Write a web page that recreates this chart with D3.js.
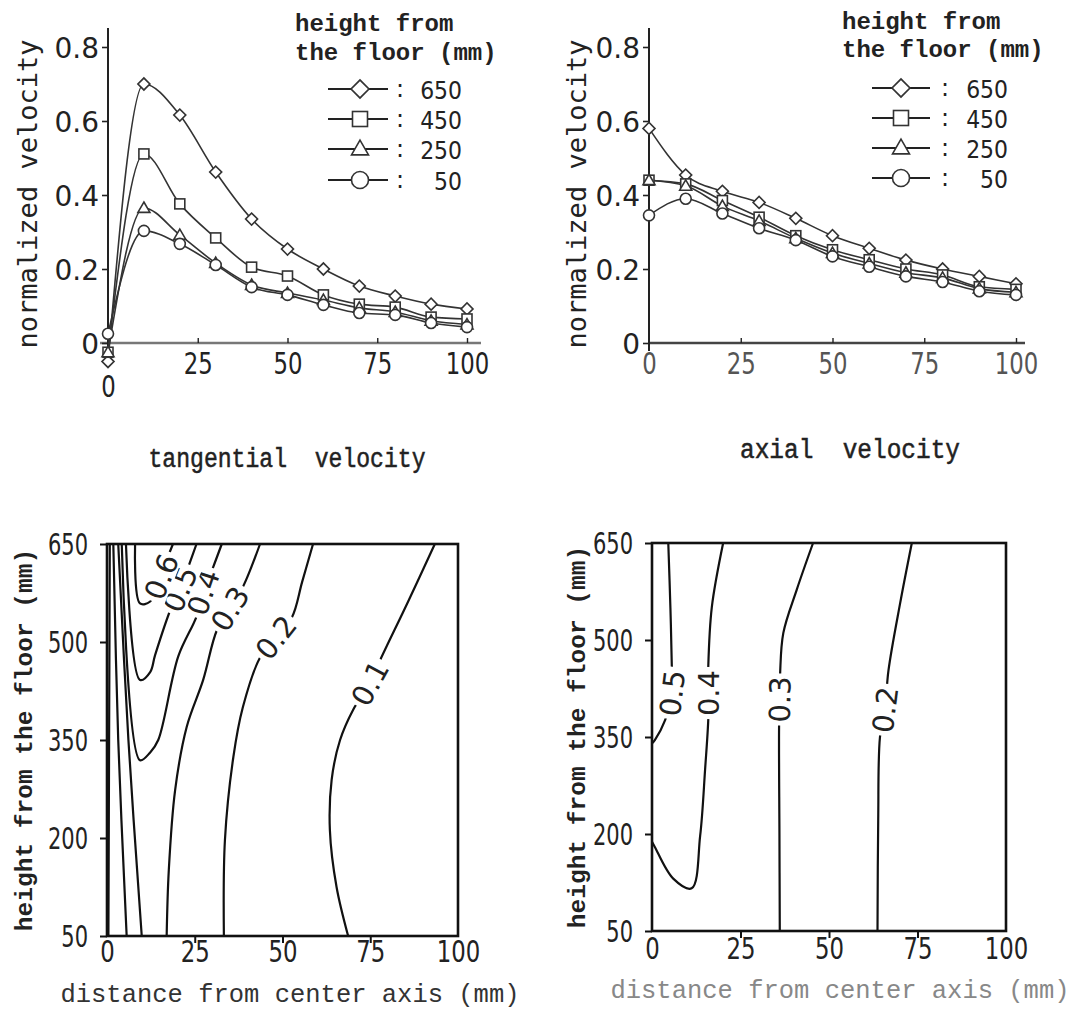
<!DOCTYPE html>
<html><head><meta charset="utf-8">
<script src="https://cdn.jsdelivr.net/npm/d3@7"></script>
<style>
body{margin:0;background:#fff;}
svg{display:block;}
.num{font-family:"DejaVu Sans",sans-serif;font-size:29px;fill:#222;}
.ylab{font-family:"DejaVu Sans Mono",monospace;font-size:27px;fill:#222;}
.typ{font-family:"Liberation Mono","Courier New",monospace;fill:#222;white-space:pre;}
</style></head><body>
<svg id="chart" width="1090" height="1011"></svg>
<script>
// ---------------- data ----------------
const distances = [0,10,20,30,40,50,60,70,80,90,100];
const legendHeights = ["650","450","250","50"];
const xTickValues = [0,25,50,75,100];
const yTickValuesTop = [0,0.2,0.4,0.6,0.8];
const yTickValuesBottom = [50,200,350,500,650];

const tangential650 = [-0.05,0.70,0.616,0.462,0.335,0.254,0.20,0.154,0.127,0.105,0.092];
const tangential450 = [-0.025,0.511,0.376,0.284,0.205,0.181,0.13,0.105,0.097,0.07,0.065];
const tangential250 = [-0.025,0.365,0.292,0.216,0.157,0.135,0.116,0.095,0.084,0.06,0.05];
const tangential50  = [0.025,0.303,0.268,0.211,0.151,0.13,0.103,0.081,0.076,0.054,0.043];

const axial650 = [0.58,0.454,0.41,0.38,0.337,0.29,0.256,0.224,0.20,0.18,0.16];
const axial450 = [0.44,0.43,0.385,0.34,0.29,0.252,0.225,0.20,0.184,0.152,0.145];
const axial250 = [0.44,0.425,0.37,0.33,0.283,0.243,0.215,0.19,0.176,0.147,0.137];
const axial50  = [0.345,0.39,0.35,0.31,0.278,0.234,0.206,0.18,0.165,0.14,0.13];

// tangential velocity contours: [distance (mm), height (mm)]
const tanC01L = [[0.8,650],[0.6,350],[0.4,50]];
const tanC01R = [[93.4,650],[85.8,562],[77.8,472],[74.9,437],[70.1,396],[66.4,350],[64,289],[63.5,212],[65.4,125],[68.7,50]];
const tanC02L = [[1.8,650],[3.2,350],[5.6,50]];
const tanC02R = [[58.7,650],[55.6,592],[52.7,538],[48.1,507],[43.5,475],[38.7,400],[36,324],[33.6,197],[33.3,50]];
const tanC03L = [[3.2,650],[6.1,350],[9.9,50]];
const tanC03R = [[43.6,650],[38.7,584],[35,551],[31.3,518],[27.4,442],[22.7,370],[19.4,273],[17.6,150],[17,50]];
const tanC04 = [[4.2,650],[9.4,319],[12.3,331],[14.6,350],[20.3,478],[25.5,539],[27.4,576],[30.2,614],[32.7,650]];
const tanC05 = [[5.4,650],[9.4,442],[12.3,454],[13.7,480],[18.4,554],[20.8,581],[23.3,617],[25.5,650]];
const tanC06 = [[8.0,650],[9.4,559],[12.3,562],[15.5,600],[17.2,628],[18.8,650]];
const tanLabels = [["0.1",74.9,437],["0.2",48.1,507],["0.3",35,551],["0.4",27.4,576],["0.5",20.8,581],["0.6",15.5,600]];

// axial velocity contours
const axC05 = [[4.6,650],[5.2,550],[5.6,459],[5.7,418],[3.7,376],[0.8,345],[0,340]];
const axC04 = [[20.1,650],[16.9,551],[15.9,459],[15.9,418],[15.9,378],[15,300],[13.6,197],[11.2,116],[6,131],[0.8,180],[0,188]];
const axC03 = [[45.5,650],[40.9,578],[37.1,511],[36.2,449],[36.1,408],[35.9,368],[36,200],[36.1,50]];
const axC02 = [[73.4,650],[70.1,557],[66.8,453],[65.8,392],[64.4,350],[63.9,221],[63.7,50]];
const axLabels = [["0.5",5.7,418],["0.4",15.9,418],["0.3",36.1,408],["0.2",65.8,392]];

// ---------------- drawing ----------------
const svg = d3.select("#chart");
const INK = "#222";
const shapes = ["diamond","square","triangle","circle"];

function condense(sel, f){
  sel.each(function(){
    const L = this.getComputedTextLength();
    d3.select(this).attr("textLength", L*f).attr("lengthAdjust","spacingAndGlyphs");
  });
}

function marker(g, kind, cx, cy, s){
  let el;
  if(kind==="circle") el = g.append("circle").attr("cx",cx).attr("cy",cy).attr("r",s/2);
  else if(kind==="square") el = g.append("rect").attr("x",cx-s/2).attr("y",cy-s/2).attr("width",s).attr("height",s);
  else if(kind==="triangle") el = g.append("path").attr("d",d3.symbol(d3.symbolTriangle, Math.sqrt(3)/4*s*s)()).attr("transform",`translate(${cx},${cy+1})`);
  else el = g.append("path").attr("d",d3.symbol(d3.symbolSquare,(s/Math.SQRT2)**2)()).attr("transform",`translate(${cx},${cy}) rotate(45)`);
  el.attr("fill","#fff").attr("stroke","#333").attr("stroke-width",1.6);
}

function topChart(cfg){
  const {x,y,series,legendX,legendRows,legendTitle,xLabelY,zeroLine,yAxisX,title,titleX,titleY,yLabelX,axisEnd} = cfg;
  const g = svg.append("g");
  g.append("line").attr("x1",zeroLine[0]).attr("x2",axisEnd).attr("y1",y(0)).attr("y2",y(0))
    .attr("stroke",zeroLine[1]).attr("stroke-width",2.4);
  const ya = d3.axisLeft(y).tickValues(yTickValuesTop).tickSize(6).tickPadding(3)
    .tickFormat(d=> d===0 ? "0" : d3.format(".1f")(d));
  const yg = g.append("g").attr("transform",`translate(${yAxisX},0)`).call(ya);
  yg.select(".domain").remove();
  yg.selectAll(".tick line").attr("stroke",INK).attr("stroke-width",1.6);
  yg.selectAll(".tick text").attr("class","num").attr("font-size",null).attr("font-family",null)
    .style("font-size","28px").attr("dy","0.36em").attr("fill",null);
  g.append("line").attr("x1",yAxisX).attr("x2",yAxisX).attr("y1",28).attr("y2",y(0)+8)
    .attr("stroke",INK).attr("stroke-width",2);
  const xa = d3.axisBottom(x).tickValues(xTickValues).tickSize(0).tickPadding(0).tickFormat(d3.format("d"));
  const xg = g.append("g").attr("transform",`translate(0,${y(0)})`).call(xa);
  xg.select(".domain").remove();
  const xt = xg.selectAll(".tick text").attr("class","num").attr("font-size",null).attr("font-family",null)
    .style("font-size","30px").attr("fill",cfg.xTickColor).style("fill",cfg.xTickColor)
    .attr("y",d=> d===0 ? xLabelY[1]-y(0) : xLabelY[0]-y(0)).attr("dy",null);
  condense(xt, 0.76);
  xg.selectAll(".tick").filter(d=>d>0).append("line").attr("y1",-5).attr("y2",0).attr("stroke",INK).attr("stroke-width",1.4);
  const line = d3.line().x((d,i)=>x(distances[i])).y(d=>y(d)).curve(d3.curveMonotoneX);
  series.forEach(vals=>{
    g.append("path").attr("d",line(vals)).attr("fill","none").attr("stroke","#333").attr("stroke-width",1.6);
  });
  series.forEach((vals,k)=>{
    const sz = shapes[k]==="diamond" ? 12 : shapes[k]==="triangle" ? 12 : shapes[k]==="square" ? 10 : 11;
    vals.forEach((v,i)=> marker(g, shapes[k], x(distances[i]), y(v), sz));
  });
  // legend
  g.append("text").attr("class","typ").attr("font-weight","bold").attr("font-size",24)
    .attr("x",legendX).attr("y",legendTitle[0]).text("height from");
  g.append("text").attr("class","typ").attr("font-weight","bold").attr("font-size",24)
    .attr("x",legendX).attr("y",legendTitle[1]).text("the floor (mm)");
  legendHeights.forEach((h,k)=>{
    const cy = legendRows.ys[k];
    g.append("line").attr("x1",legendRows.l0).attr("x2",legendRows.l1).attr("y1",cy).attr("y2",cy)
      .attr("stroke","#222").attr("stroke-width",2.2);
    const sz = shapes[k]==="diamond" ? 18 : shapes[k]==="square" ? 15 : 17;
    marker(g, shapes[k], legendRows.m, cy, sz);
    g.append("text").attr("class","num").attr("x",legendRows.colon).attr("y",cy+8).attr("text-anchor","middle")
      .style("font-size","24px").text(":");
    const nt = g.append("text").attr("class","num").attr("x",legendRows.numEnd).attr("y",cy+9.5).attr("text-anchor","end")
      .style("font-size","25.5px").text(h);
    condense(nt, 0.86);
  });
  g.append("text").attr("class","ylab").attr("text-anchor","middle")
    .attr("transform",`translate(${yLabelX},194) rotate(-90)`).text("normalized velocity");
  const tt = g.append("text").attr("class","typ").attr("font-size",title.size).attr("text-anchor","middle")
    .attr("stroke","#222").attr("stroke-width",0.5)
    .attr("x",titleX).attr("y",titleY).text(title.text);
  tt.attr("textLength",title.len).attr("lengthAdjust","spacingAndGlyphs");
}

const yTop = d3.scaleLinear().domain([0,0.8]).range([343,47]);
topChart({
  x: d3.scaleLinear().domain([0,100]).range([108,467]), y: yTop,
  series:[tangential650,tangential450,tangential250,tangential50],
  legendX:295, legendTitle:[31,60],
  legendRows:{ys:[89,119,149,180], l0:328, l1:388, m:360, colon:400, numEnd:462},
  xLabelY:[374,397], zeroLine:[100,"#777"], axisEnd:481, yAxisX:108,
  title:{text:"tangential  velocity", size:27, len:277}, titleX:287, titleY:467, yLabelX:37, xTickColor:"#222"
});
topChart({
  x: d3.scaleLinear().domain([0,100]).range([649,1016]), y: yTop,
  series:[axial650,axial450,axial250,axial50],
  legendX:842, legendTitle:[29,57],
  legendRows:{ys:[88,118,148,178], l0:872, l1:930, m:901, colon:945, numEnd:1008},
  xLabelY:[374,374], zeroLine:[649,"#444"], axisEnd:1025, yAxisX:649,
  title:{text:"axial  velocity", size:27, len:220}, titleX:850, titleY:458, yLabelX:586, xTickColor:"#555"
});

function bottomChart(cfg){
  const {x,y,paths,labels,yLabelX,xLabelX,xLabelY,xLabelColor,xTickY} = cfg;
  const g = svg.append("g");
  const [x0,x1] = x.range(), [y0,y1] = y.range();
  const cl = d3.line().x(d=>x(d[0])).y(d=>y(d[1])).curve(d3.curveCatmullRom.alpha(0.5));
  paths.forEach(p=> g.append("path").attr("d",cl(p)).attr("fill","none").attr("stroke","#111").attr("stroke-width",2.2));
  labels.forEach(([t,lx,ly])=>{
    let best=null, bi=0, bd=1e12;
    paths.forEach(p=>p.forEach((q,i)=>{const d=(x(q[0])-x(lx))**2+(y(q[1])-y(ly))**2; if(d<bd){bd=d;best=p;bi=i;}}));
    const a = best[Math.max(0,bi-1)], b = best[Math.min(best.length-1,bi+1)];
    let ang = Math.atan2(y(b[1])-y(a[1]), x(b[0])-x(a[0]))*180/Math.PI;
    if(ang>90) ang-=180; if(ang<-90) ang+=180; if(ang>60) ang-=180;
    const lg = g.append("g").attr("transform",`translate(${x(lx)},${y(ly)}) rotate(${ang})`);
    const r = lg.append("rect").attr("fill","#fff");
    const tx = lg.append("text").attr("class","num").style("font-size","29px")
      .attr("text-anchor","middle").attr("dy","0.36em").text(t);
    const w = tx.node().getComputedTextLength()+6;
    r.attr("x",-w/2).attr("y",-13).attr("width",w).attr("height",26);
  });
  g.append("rect").attr("x",x0).attr("y",y1).attr("width",x1-x0).attr("height",y0-y1)
    .attr("fill","none").attr("stroke","#111").attr("stroke-width",2.6);
  const ya = d3.axisLeft(y).tickValues(yTickValuesBottom).tickSize(7).tickPadding(12).tickFormat(d3.format("d"));
  const yg = g.append("g").attr("transform",`translate(${x0},0)`).call(ya);
  yg.select(".domain").remove();
  yg.selectAll(".tick line").attr("stroke","#111").attr("stroke-width",2);
  const yt = yg.selectAll(".tick text").attr("class","num").attr("font-size",null).attr("font-family",null).attr("fill",null)
    .style("font-size","30px").attr("dy","0.36em");
  condense(yt, 0.7);
  const xa = d3.axisBottom(x).tickValues(xTickValues).tickSize(0).tickFormat(d3.format("d"));
  const xg = g.append("g").attr("transform",`translate(0,${y0})`).call(xa);
  xg.select(".domain").remove();
  const xt = xg.selectAll(".tick text").attr("class","num").attr("font-size",null).attr("font-family",null).attr("fill",null)
    .style("font-size","30px").attr("y",xTickY-y0).attr("dy",null);
  condense(xt, 0.76);
  xg.selectAll(".tick").filter(d=>d>0&&d<100).append("line").attr("y1",0).attr("y2",7).attr("stroke","#111").attr("stroke-width",2);
  g.append("text").attr("class","typ").attr("font-weight","bold").attr("font-size",24.5).attr("text-anchor","middle")
    .attr("transform",`translate(${yLabelX},${(y0+y1)/2}) rotate(-90)`).text("height from the floor (mm)");
  g.append("text").attr("class","typ").attr("font-size",25.5).attr("text-anchor","middle")
    .style("fill",xLabelColor).attr("x",xLabelX).attr("y",xLabelY).text("distance from center axis (mm)");
}

bottomChart({
  x: d3.scaleLinear().domain([0,100]).range([107,458]),
  y: d3.scaleLinear().domain([50,650]).range([936,544]),
  paths:[tanC01L,tanC01R,tanC02L,tanC02R,tanC03L,tanC03R,tanC04,tanC05,tanC06],
  labels: tanLabels, yLabelX:32, xLabelX:290, xLabelY:1002, xLabelColor:"#333", xTickY:962
});
bottomChart({
  x: d3.scaleLinear().domain([0,100]).range([652,1006]),
  y: d3.scaleLinear().domain([50,650]).range([931,543]),
  paths:[axC05,axC04,axC03,axC02],
  labels: axLabels, yLabelX:585, xLabelX:840, xLabelY:998, xLabelColor:"#888", xTickY:959
});
</script>
</body></html>
